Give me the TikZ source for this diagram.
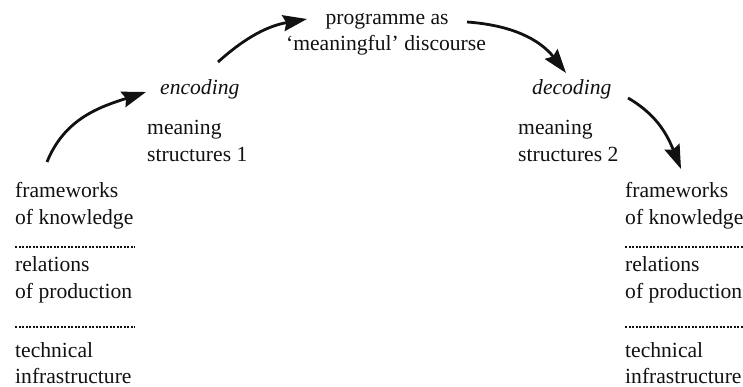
\documentclass[tikz,border=0pt]{standalone}
\usepackage{fontspec}
\setmainfont{Liberation Serif}
\usetikzlibrary{arrows.meta}
\definecolor{ink}{HTML}{111111}
\tikzset{
  lbl/.style={anchor=base west, inner sep=0pt, text=ink, font=\fontsize{21.6}{26}\selectfont},
  clbl/.style={anchor=base, inner sep=0pt, text=ink, font=\fontsize{21.6}{26}\selectfont},
  sep/.style={draw=ink, line width=1.1pt, dash pattern=on 2.4pt off 1.1pt},
  flow/.style={draw=ink, line width=2.8pt, -{Stealth[length=24pt,width=16pt,inset=3pt]}}
}
\begin{document}
\begin{tikzpicture}[x=1pt,y=1pt]
\useasboundingbox (0,0) rectangle (743,-387);
% left stack
\node[lbl] (lf1) at (15,-198) {frameworks};
\node[lbl] (lf2) at (15,-225) {of knowledge};
\node[lbl] (lr1) at (15,-271) {relations};
\node[lbl] (lr2) at (15,-298) {of production};
\node[lbl] (lt1) at (15,-357) {technical};
\node[lbl] (lt2) at (15,-383) {infrastructure};
\draw[sep] (15,-247) -- (135,-247);
\draw[sep] (15,-327) -- (135,-327);
% right stack
\node[lbl] (rf1) at (625,-198) {frameworks};
\node[lbl] (rf2) at (625,-225) {of knowledge};
\node[lbl] (rr1) at (625,-271) {relations};
\node[lbl] (rr2) at (625,-298) {of production};
\node[lbl] (rt1) at (625,-357) {technical};
\node[lbl] (rt2) at (625,-383) {infrastructure};
\draw[sep] (625,-247) -- (745,-247);
\draw[sep] (625,-327) -- (745,-327);
% encoding
\node[lbl] (enc) at (160,-95) {\itshape encoding};
\node[lbl] (ms1a) at (147,-135) {meaning};
\node[lbl] (ms1b) at (147,-162) {structures 1};
% decoding
\node[lbl] (dec) at (532,-95) {\itshape decoding};
\node[lbl] (ms2a) at (518,-135) {meaning};
\node[lbl] (ms2b) at (518,-162) {structures 2};
% programme
\node[clbl] (pr1) at (387,-25) {programme as};
\node[clbl] (pr2) at (386,-51) {‘meaningful’ discourse};
% arrow end points
\coordinate (a1s) at (47,-162);
\coordinate (a1e) at (146,-92);
\coordinate (a2s) at (218,-62);
\coordinate (a2e) at (307,-19);
\coordinate (a3s) at (467,-22);
\coordinate (a3e) at (566,-73);
\coordinate (a4s) at (628,-98);
\coordinate (a4e) at (681,-169);
\draw[flow] (a1s) to[out=68,in=198] (a1e);
\draw[flow] (a2s) to[out=42,in=190] (a2e);
\draw[flow] (a3s) to[out=-4,in=128] (a3e);
\draw[flow] (a4s) to[out=-30,in=112] (a4e);
\end{tikzpicture}
\end{document}
